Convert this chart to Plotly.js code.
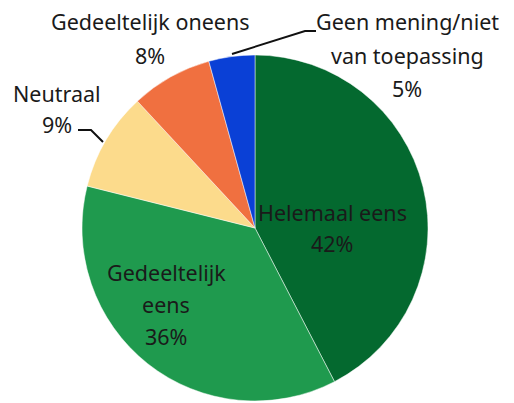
<!DOCTYPE html>
<html>
<head>
<meta charset="utf-8">
<script src="https://cdn.plot.ly/plotly-3.0.1.min.js"></script>
<style>html,body{margin:0;padding:0;background:#fff;}#chart{width:514px;height:403px;}</style>
</head>
<body>
<div id="chart"></div>
<script>
const categories = ["Helemaal eens", "Gedeeltelijk eens", "Neutraal", "Gedeeltelijk oneens", "Geen mening/niet van toepassing"];
// slice sizes as measured from the slice angles
const values = [42.4, 36.5, 9.2, 7.6, 4.3];
// percentages as printed on the chart
const percentLabels = ["42%", "36%", "9%", "8%", "5%"];
const colors = ["#04692F", "#1F9A4E", "#FCDB8C", "#F07040", "#0A40D6"];
const labelLines = [
  ["Helemaal eens"],
  ["Gedeeltelijk", "eens"],
  ["Neutraal"],
  ["Gedeeltelijk oneens"],
  ["Geen mening/niet", "van toepassing"]
];

const W = 514, H = 403;
const px = x => x / W;
const py = y => 1 - y / H;
const FONT = {family: "Noto Sans", size: 21.5, color: "#1a1a1a"};

// label anchor positions (pixel centre of first line) and line spacing
const labelPos = [[332, 212, 31], [166, 272, 32], [57, 93, 32], [150, 21, 34], [407, 22, 33]];

const annotations = [];
categories.forEach((c, i) => {
  const lines = labelLines[i].concat([percentLabels[i]]);
  lines.forEach((t, k) => {
    annotations.push({
      xref: "paper", yref: "paper",
      x: px(labelPos[i][0]), y: py(labelPos[i][1] + k * labelPos[i][2]),
      text: t, showarrow: false, font: FONT,
      xanchor: "center", yanchor: "middle"
    });
  });
});

function path(pts) {
  return pts.map((p, i) => (i ? "L" : "M") + px(p[0]) + "," + py(p[1])).join(" ");
}
const shapes = [
  {type: "path", xref: "paper", yref: "paper", path: path([[78, 130], [91, 130], [103, 142]]), line: {color: "#111", width: 2}},
  {type: "path", xref: "paper", yref: "paper", path: path([[316, 31], [305, 31], [232, 54]]), line: {color: "#111", width: 2}}
];

const data = [{
  type: "pie",
  labels: categories,
  values: values,
  sort: false,
  direction: "clockwise",
  rotation: 0,
  textinfo: "none",
  hoverinfo: "label+percent",
  marker: {colors: colors, line: {color: "rgba(255,255,255,0.6)", width: 0.8}},
  domain: {x: [px(82), px(428)], y: [py(401), py(55)]},
  showlegend: false
}];

const layout = {
  width: W, height: H,
  margin: {l: 0, r: 0, t: 0, b: 0},
  paper_bgcolor: "#fff",
  showlegend: false,
  annotations: annotations,
  shapes: shapes
};

Plotly.newPlot("chart", data, layout, {displayModeBar: false, staticPlot: true});
</script>
</body>
</html>
